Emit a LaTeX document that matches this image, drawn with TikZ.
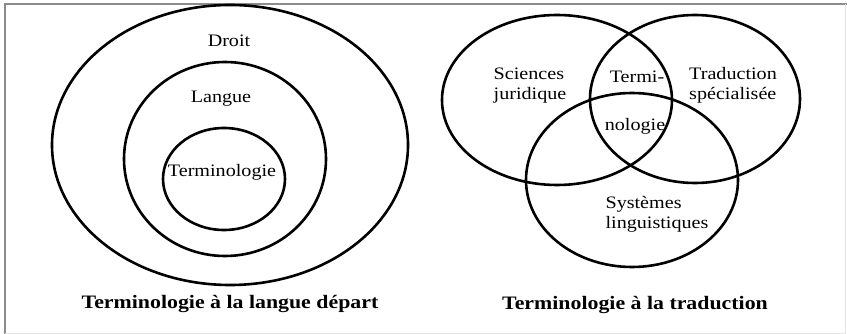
\documentclass[tikz,border=0pt]{standalone}
\usepackage{fontspec}
\setmainfont{Liberation Serif}[FakeStretch=1.15]
\usetikzlibrary{positioning}

\tikzset{
    ring/.style={draw, line width=2.6pt},
    lbl/.style={font=\fontsize{17.5}{20}\selectfont, inner sep=0pt, align=left},
    caption/.style={font=\fontsize{19}{20}\selectfont\bfseries, inner sep=0pt}
}

\begin{document}
\begin{tikzpicture}[x=1pt, y=-1pt]
    \useasboundingbox (0,0) rectangle (847,334);
    % frame
    \draw[gray!90, line width=2pt] (5,334) -- (5,4.5) -- (847,4.5);
    \draw[gray!20, line width=1pt] (5,333) -- (845,333) -- (845,4.5);

    % left: nested sets
    \draw[ring] (230,145) ellipse [x radius=178, y radius=140];
    \draw[ring] (225,159) ellipse [x radius=101, y radius=97];
    \draw[ring] (224,179) ellipse [x radius=61, y radius=51];
    \node[lbl] (droit) at (229,41) {Droit};
    \node[lbl] (langue) at (221,99) {Langue};
    \node[lbl] (termino) at (222,172) {Terminologie};
    \node[caption] (capl) at (230,304) {Terminologie à la langue départ};

    % right: three overlapping sets
    \draw[ring] (557,100) ellipse [x radius=115, y radius=85];
    \draw[ring] (695,99) ellipse [x radius=105, y radius=84];
    \draw[ring] (632,180) ellipse [x radius=106, y radius=87];
    \node[lbl] (sci) at (530,86) {Sciences\\juridique};
    \node[lbl] (trad) at (733,85) {Traduction\\spécialisée};
    \node[lbl] (termi) at (637,77) {Termi-};
    \node[lbl] (nolo) at (635,126) {nologie};
    \node[lbl] (sys) at (657,214) {Systèmes\\linguistiques};
    \node[caption] (capr) at (635,305) {Terminologie à la traduction};
\end{tikzpicture}
\end{document}
